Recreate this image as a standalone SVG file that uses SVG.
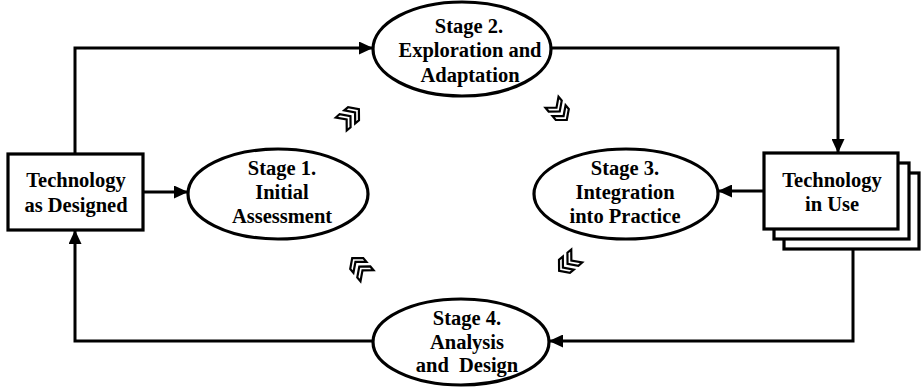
<svg xmlns="http://www.w3.org/2000/svg" width="922" height="387" viewBox="0 0 922 387">
  <style>
    .box { fill: #fff; stroke: #000; stroke-width: 3.2; }
    .stage { fill: #fff; stroke: #000; stroke-width: 3.2; }
    .lbl { font-family: "Liberation Serif", "Times New Roman", serif; font-weight: bold; font-size: 20.5px; fill: #000; text-anchor: middle; }
    .wire { fill: none; stroke: #000; stroke-width: 3; }
    .chev { fill: #fff; stroke: #000; stroke-width: 2.2; stroke-linejoin: miter; }
  </style>
  <defs>
    <marker id="head" viewBox="0 0 14 13" refX="13" refY="6.5" markerWidth="14" markerHeight="13" markerUnits="userSpaceOnUse" orient="auto">
      <path d="M0,0 L14,6.5 L0,13 Z" fill="#000"/>
    </marker>
    <!-- hollow double chevron pointing along +x -->
    <g id="chev">
      <path class="chev" d="M-14,-8.5 L-9,-8.5 L-2,0 L-9,8.5 L-14,8.5 L-7,0 Z"/>
      <path class="chev" d="M-3,-8.5 L2,-8.5 L9,0 L2,8.5 L-3,8.5 L4,0 Z"/>
    </g>
  </defs>

  <!-- connectors -->
  <g id="connectors">
    <path class="wire" d="M75,153 V48 H372" marker-end="url(#head)"/>
    <path class="wire" d="M551,48 H838 V152" marker-end="url(#head)"/>
    <path class="wire" d="M763,191 H719" marker-end="url(#head)"/>
    <path class="wire" d="M143,192 H187" marker-end="url(#head)"/>
    <path class="wire" d="M853,250 V341 H550" marker-end="url(#head)"/>
    <path class="wire" d="M373,341 H75 V231" marker-end="url(#head)"/>
  </g>

  <!-- flow chevrons between stages -->
  <g id="flow-marks">
    <use href="#chev" transform="translate(352,115) rotate(-40)"/>
    <use href="#chev" transform="translate(561,113) rotate(50)"/>
    <use href="#chev" transform="translate(566,265) rotate(140)"/>
    <use href="#chev" transform="translate(358,265) rotate(-130)"/>
  </g>

  <g id="tech-designed">
    <rect class="box" x="8" y="154" width="135" height="76"/>
    <text class="lbl" x="76" y="187">Technology</text>
    <text class="lbl" x="76" y="212">as Designed</text>
  </g>

  <g id="tech-in-use">
    <rect class="box" x="784" y="173" width="135" height="76"/>
    <rect class="box" x="774" y="163" width="135" height="76"/>
    <rect class="box" x="764" y="153" width="134" height="76"/>
    <text class="lbl" x="832" y="187">Technology</text>
    <text class="lbl" x="832" y="211">in Use</text>
  </g>

  <g id="stage1">
    <ellipse class="stage" cx="278" cy="194" rx="90" ry="45"/>
    <text class="lbl" x="282" y="175">Stage 1.</text>
    <text class="lbl" x="282" y="199">Initial</text>
    <text class="lbl" x="282" y="223">Assessment</text>
  </g>

  <g id="stage2">
    <ellipse class="stage" cx="462" cy="49" rx="89" ry="47"/>
    <text class="lbl" x="469" y="33">Stage 2.</text>
    <text class="lbl" x="470" y="57">Exploration and</text>
    <text class="lbl" x="470" y="82">Adaptation</text>
  </g>

  <g id="stage3">
    <ellipse class="stage" cx="626" cy="194" rx="92" ry="45"/>
    <text class="lbl" x="625" y="175">Stage 3.</text>
    <text class="lbl" x="625" y="199">Integration</text>
    <text class="lbl" x="625" y="223">into Practice</text>
  </g>

  <g id="stage4">
    <ellipse class="stage" cx="461" cy="342" rx="88" ry="43"/>
    <text class="lbl" x="467" y="325">Stage 4.</text>
    <text class="lbl" x="467" y="349">Analysis</text>
    <text class="lbl" x="467" y="372" xml:space="preserve">and  Design</text>
  </g>
</svg>
